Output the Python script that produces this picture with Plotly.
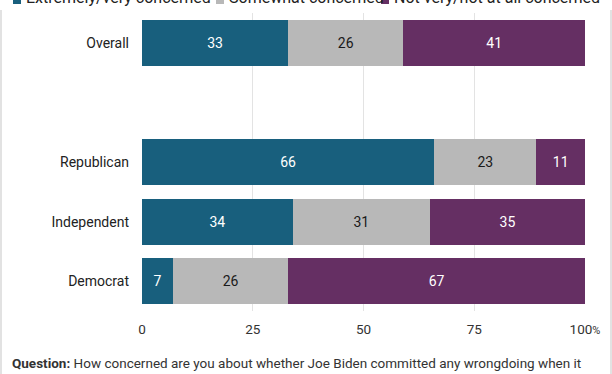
import plotly.graph_objects as go

groups = ["Overall", " ", "Republican", "Independent", "Democrat"]
series_names = ["Extremely/very concerned", "Somewhat concerned", "Not very/not at all concerned"]
extremely = [33, None, 66, 34, 7]
somewhat = [26, None, 23, 31, 26]
not_very = [41, None, 11, 35, 67]
colors = ["#185f7d", "#b8b8b8", "#652f63"]
text_colors = ["#ffffff", "#1a1a1a", "#ffffff"]
x_ticks = [0, 25, 50, 75, 100]
x_ticktext = ["0", "25", "50", "75", "100<span style='font-size:11px'>%</span>"]

W, H = 612, 374
L, R, T, B = 142, 27, 13, 63
pw = W - L - R
ph = H - T - B

def px_x(p):
    return (p - L) / pw

def px_y(p):
    return 1 - (p - T) / ph

fig = go.Figure()
for name, vals, c, tc in zip(series_names, [extremely, somewhat, not_very], colors, text_colors):
    fig.add_trace(go.Bar(
        y=groups, x=vals, name=name, orientation="h",
        marker=dict(color=c, line=dict(width=0)),
        text=[("" if v is None else str(v)) for v in vals],
        textposition="inside", insidetextanchor="middle", textangle=0,
        insidetextfont=dict(color=tc, size=14, family="Roboto"),
        hoverinfo="skip", showlegend=False,
    ))

fig.update_layout(
    width=W, height=H,
    margin=dict(l=L, r=R, t=T, b=B, autoexpand=False),
    barmode="stack", bargap=0.23,
    plot_bgcolor="white", paper_bgcolor="white",
    font=dict(family="Roboto", size=13, color="#222222"),
    xaxis=dict(range=[0, 100], tickvals=x_ticks, ticktext=x_ticktext,
               showgrid=True, gridcolor="#e3e3e3", gridwidth=1,
               zeroline=False, showline=False, ticks="", automargin=False,
               tickfont=dict(size=13.5, color="#333333"), ticklabelstandoff=8,
               fixedrange=True),
    yaxis=dict(type="category", categoryorder="array", categoryarray=groups,
               range=[4.5, -0.5], showgrid=False, zeroline=False, showline=False,
               ticks="", tickfont=dict(size=14, color="#222222"), automargin=False,
               ticklabelstandoff=12, fixedrange=True),
)

# legend drawn as annotations (partially cropped at top like the reference)
legend_items = [(13, series_names[0]), (216, series_names[1]), (381, series_names[2])]
for (xp, label), c in zip(legend_items, colors):
    fig.add_shape(type="rect", xref="paper", yref="paper",
                  x0=px_x(xp), x1=px_x(xp + 8), y0=px_y(4), y1=px_y(-4),
                  fillcolor=c, line=dict(width=0))
    fig.add_annotation(xref="paper", yref="paper", x=px_x(xp + 11), y=px_y(-2),
                       xanchor="left", yanchor="middle", showarrow=False,
                       text=label, font=dict(size=16, color="#222222", family="Roboto"))

# page border lines
for xp in (1, 611):
    fig.add_shape(type="line", xref="paper", yref="paper",
                  x0=px_x(xp), x1=px_x(xp), y0=px_y(10), y1=px_y(380),
                  line=dict(color="#d9d9d9", width=1.5))

fig.add_annotation(xref="paper", yref="paper", x=px_x(10), y=px_y(353),
                   xanchor="left", yanchor="top", align="left", showarrow=False,
                   text="<b>Question:</b> How concerned are you about whether Joe Biden committed any wrongdoing when it<br>came to his son Hunter Biden's business dealings?",
                   font=dict(size=13.5, color="#333333", family="Roboto"))

fig.write_html("out.html", config={"displayModeBar": False},
               post_script="document.body.style.margin='0';document.body.style.overflow='hidden';")
